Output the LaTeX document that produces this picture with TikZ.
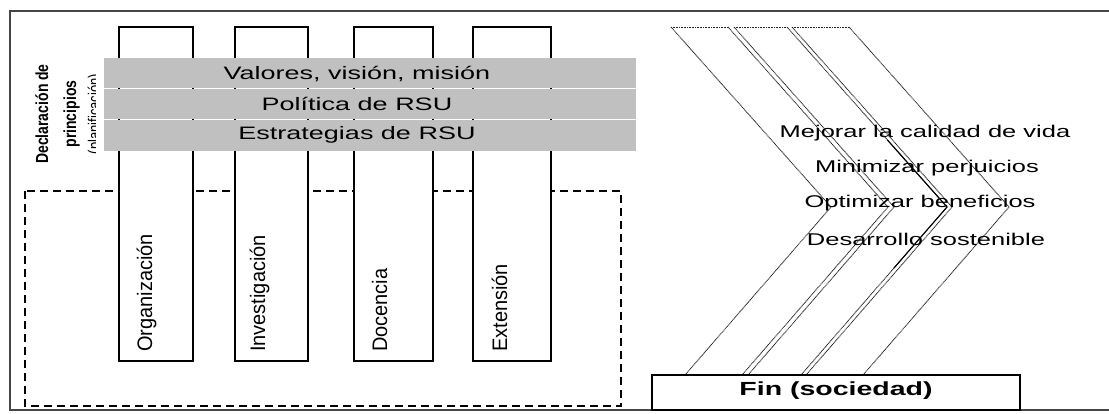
\documentclass[tikz,border=0pt]{standalone}
\usepackage{fontspec}
\setmainfont{Liberation Sans}
\usepackage{graphicx}
\definecolor{bandgray}{RGB}{192,192,192}
\definecolor{framegray}{RGB}{70,70,70}
\begin{document}
\begin{tikzpicture}[x=1pt,y=-1pt,
  frameline/.style={draw=framegray,line width=1.4pt},
  dashbox/.style={draw=black,line width=1.6pt,dash pattern=on 8pt off 5pt},
  pillar/.style={draw=black,fill=white,line width=1.1pt},
  band/.style={fill=bandgray,draw=none},
  bandtext/.style={font=\fontsize{18}{20}\selectfont,inner sep=0pt},
  goaltext/.style={font=\fontsize{17}{19}\selectfont,inner sep=0pt},
  pillartext/.style={font=\fontsize{20}{22}\selectfont,rotate=90,anchor=base west,inner sep=0pt},
  titletext/.style={font=\bfseries\fontsize{14}{16}\selectfont,rotate=90,anchor=base,inner sep=0pt},
  chev/.style={draw=black!85,line width=0.9pt,dash pattern=on 1pt off 0.6pt},
  finbox/.style={draw=black,fill=white,line width=1.1pt}
]
\useasboundingbox (0,0) rectangle (1109,414);
% outer frame
\coordinate (ftr) at (1109,11);
\coordinate (ftl) at (10,11);
\coordinate (fbl) at (10,410);
\coordinate (fbr) at (1109,410);
\draw[frameline] (ftr) -- (ftl) -- (fbl) -- (fbr);
% dashed area
\draw[dashbox] (25,191) rectangle (621,406);
% pillars
\draw[pillar] (119,27) rectangle (193,361);
\draw[pillar] (235,27) rectangle (308,361);
\draw[pillar] (354,27) rectangle (433,361);
\draw[pillar] (473,27) rectangle (551,361);
% bands
\fill[band] (104,58) rectangle (636,88.3);
\fill[band] (104,89.3) rectangle (636,119.3);
\fill[band] (104,120.3) rectangle (636,151);
\node[bandtext] (v1) at (357,74) {\scalebox{1.5}[1]{Valores, visión, misión}};
\node[bandtext] (v2) at (357,104) {\scalebox{1.5}[1]{Política de RSU}};
\node[bandtext] (v3) at (357,135) {\scalebox{1.5}[1]{Estrategias de RSU}};
% pillar labels
\node[pillartext] (p1) at (152,352) {\scalebox{1}[1.05]{Organización}};
\node[pillartext] (p2) at (265,352) {\scalebox{1}[1.05]{Investigación}};
\node[pillartext] (p3) at (387,352) {\scalebox{1}[1.05]{Docencia}};
\node[pillartext] (p4) at (507,352) {\scalebox{1}[1.05]{Extensión}};
% left title
\node[titletext] (d1) at (48,114) {\scalebox{1}[1.25]{Declaración de}};
\node[titletext] (d2) at (76,114) {\scalebox{1}[1.25]{principios}};
\begin{scope}
\clip (78,40) rectangle (95,170);
\node[font=\fontsize{13}{15}\selectfont,rotate=90,anchor=base,inner sep=0pt] (d3) at (100,114) {\scalebox{1}[1.3]{(planificación)}};
\end{scope}
% chevrons
\foreach \t in {671,728,734,787,792,849}{
  \draw[chev] (\t,27) -- (\t+160,207) -- (\t+14,375);
}
\draw[chev] (671,27) -- (728,27);
\draw[chev] (734,27) -- (787,27);
\draw[chev] (792,27) -- (849,27);
\draw[black,line width=1.1pt] (887.4,140) -- (947,207) -- (894,268);
% goals
\node[goaltext] (g1) at (925,133) {\scalebox{1.5}[1]{Mejorar la calidad de vida}};
\node[goaltext] (g2) at (927,168) {\scalebox{1.5}[1]{Minimizar perjuicios}};
\node[goaltext] (g3) at (920,203) {\scalebox{1.5}[1]{Optimizar beneficios}};
\node[goaltext] (g4) at (926,239) {\scalebox{1.5}[1]{Desarrollo sostenible}};
% end box
\draw[finbox] (652,375) rectangle (1020,410);
\node[font=\bfseries\fontsize{19}{21}\selectfont,inner sep=0pt] (fin) at (836,391) {\scalebox{1.5}[1]{Fin (sociedad)}};
\end{tikzpicture}
\end{document}
